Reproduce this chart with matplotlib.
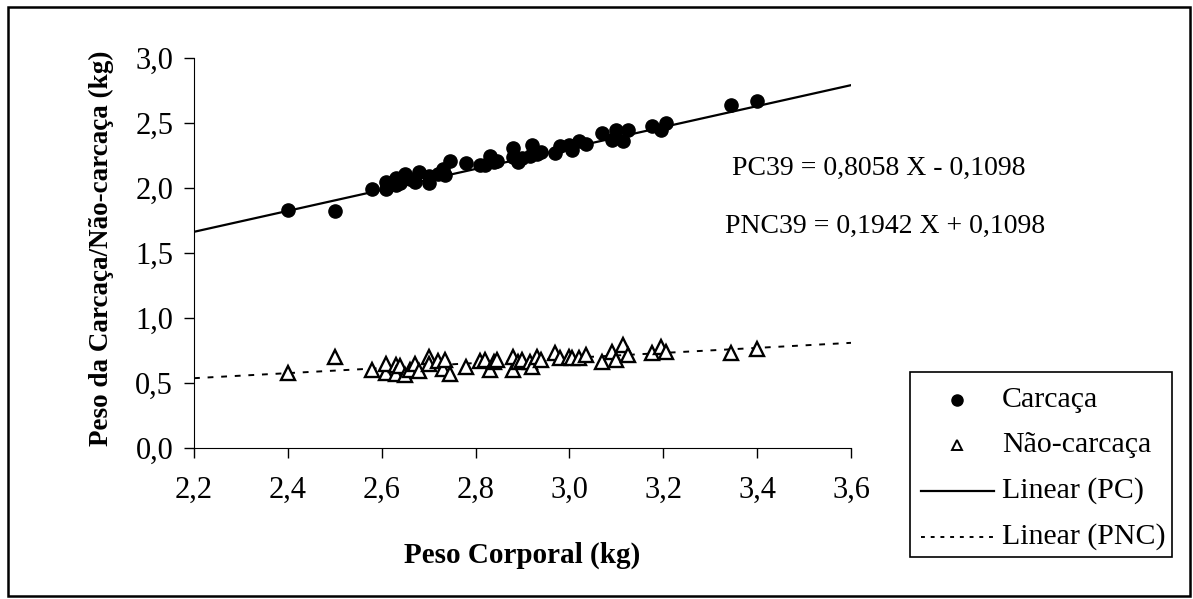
import matplotlib
matplotlib.use("Agg")
import matplotlib.pyplot as plt
from matplotlib.ticker import FuncFormatter, MultipleLocator
from matplotlib.lines import Line2D
from matplotlib.patches import Rectangle

plt.rcParams['font.family'] = ['Liberation Serif', 'DejaVu Serif']

# peso corporal (kg)
peso_corporal = [2.40, 2.50, 2.58, 2.61, 2.61, 2.63, 2.63, 2.64, 2.65, 2.66,
                 2.67, 2.68, 2.70, 2.70, 2.72, 2.73, 2.735, 2.745, 2.78, 2.81,
                 2.82, 2.83, 2.84, 2.845, 2.88, 2.88, 2.89, 2.90, 2.915, 2.92,
                 2.93, 2.94, 2.97, 2.98, 3.00, 3.005, 3.02, 3.035, 3.07, 3.09,
                 3.10, 3.115, 3.125, 3.175, 3.195, 3.205, 3.345, 3.40]
# peso da carcaca (kg)
carcaca = [1.83, 1.82, 1.99, 2.05, 1.99, 2.02, 2.08, 2.04, 2.11, 2.07,
           2.05, 2.12, 2.04, 2.09, 2.11, 2.15, 2.10, 2.21, 2.19, 2.18,
           2.18, 2.25, 2.20, 2.21, 2.31, 2.24, 2.20, 2.23, 2.25, 2.33,
           2.26, 2.28, 2.27, 2.32, 2.33, 2.29, 2.36, 2.34, 2.42, 2.37,
           2.45, 2.36, 2.45, 2.48, 2.45, 2.50, 2.64, 2.67]
# peso da nao-carcaca (kg)
nao_carcaca = [0.58, 0.70, 0.60, 0.58, 0.65, 0.64, 0.57, 0.63, 0.56, 0.60,
               0.65, 0.59, 0.70, 0.65, 0.67, 0.61, 0.68, 0.57, 0.62, 0.67,
               0.68, 0.60, 0.66, 0.68, 0.60, 0.70, 0.66, 0.68, 0.66, 0.62,
               0.70, 0.68, 0.73, 0.69, 0.70, 0.69, 0.69, 0.715, 0.66, 0.74,
               0.68, 0.79, 0.715, 0.73, 0.78, 0.74, 0.73, 0.76]

# regression coefficients (slope, intercept)
pc_coef = (0.8058, -0.1098)
pnc_coef = (0.1942, 0.1098)
x_range = [2.2, 3.6]

W, H = 1193, 599
fig = plt.figure(figsize=(W / 100, H / 100), dpi=100)
# axes box in pixels: left 194, right 851, top 58, bottom 448
ax = fig.add_axes([194 / W, 1 - 448 / H, 657 / W, 390 / H])

ax.plot(x_range, [pc_coef[0] * x + pc_coef[1] for x in x_range],
        color='black', lw=1.6, zorder=2)
ax.plot(x_range, [pnc_coef[0] * x + pnc_coef[1] for x in x_range],
        color='black', lw=1.4, ls=(0, (3, 4)), zorder=2)
ax.plot(peso_corporal, carcaca, 'o', color='black', ms=9.5, zorder=3)
ax.plot(peso_corporal, nao_carcaca, '^', mfc='white', mec='black', mew=1.7,
        ms=10.5, zorder=3)

ax.set_xlim(2.2, 3.6)
ax.set_ylim(0, 3.0)
ax.xaxis.set_major_locator(MultipleLocator(0.2))
ax.yaxis.set_major_locator(MultipleLocator(0.5))
comma = FuncFormatter(lambda v, p: f"{v:.1f}".replace('.', ','))
ax.xaxis.set_major_formatter(comma)
ax.yaxis.set_major_formatter(comma)
ax.tick_params(labelsize=22, length=7, width=1, direction='out')
ax.tick_params(axis='x', pad=13)
ax.tick_params(axis='y', pad=8)
for s in ['top', 'right']:
    ax.spines[s].set_visible(False)

ax.set_xlabel('Peso Corporal (kg)', fontsize=21, fontweight='bold', va='center')
ax.xaxis.set_label_coords(0.5, -(555 - 448) / 390)
ax.set_ylabel('Peso da Carcaça/Não-carcaça (kg)', fontsize=19.5,
              fontweight='bold', va='center')
ax.yaxis.set_label_coords(-(194 - 101) / 657, (448 - 248) / 390)

fig.text(732 / W, 1 - 168 / H, 'PC39 = 0,8058 X - 0,1098',
         fontsize=20, va='center')
fig.text(725 / W, 1 - 226 / H, 'PNC39 = 0,1942 X + 0,1098',
         fontsize=20, va='center')

# legend drawn in figure pixels
fig.patches.append(Rectangle((910 / W, 1 - 557 / H), 262 / W, 185 / H,
                             transform=fig.transFigure, fill=False,
                             edgecolor='black', lw=1.2))
leg_labels = ['Carcaça', 'Não-carcaça', 'Linear (PC)', 'Linear (PNC)']
leg_rows = [400, 445, 491, 537]
fig.add_artist(Line2D([957 / W], [1 - leg_rows[0] / H], transform=fig.transFigure,
                      ls='none', marker='o', color='black', ms=8))
fig.add_artist(Line2D([957 / W], [1 - leg_rows[1] / H], transform=fig.transFigure,
                      ls='none', marker='^', mfc='white', mec='black', mew=1.4, ms=7))
fig.add_artist(Line2D([921 / W, 994 / W], [1 - leg_rows[2] / H] * 2,
                      transform=fig.transFigure, color='black', lw=1.6))
fig.add_artist(Line2D([921 / W, 994 / W], [1 - leg_rows[3] / H] * 2,
                      transform=fig.transFigure, color='black', lw=1.4,
                      ls=(0, (2, 3))))
for lab, row in zip(leg_labels, leg_rows):
    fig.text(1002 / W, 1 - row / H, lab, fontsize=21.5, va='center')

fig.patches.append(Rectangle((8 / W, 1 - 596 / H), 1182 / W, 589 / H,
                             transform=fig.transFigure, fill=False,
                             edgecolor='black', lw=1.8))

fig.savefig('out.png', dpi=100)
